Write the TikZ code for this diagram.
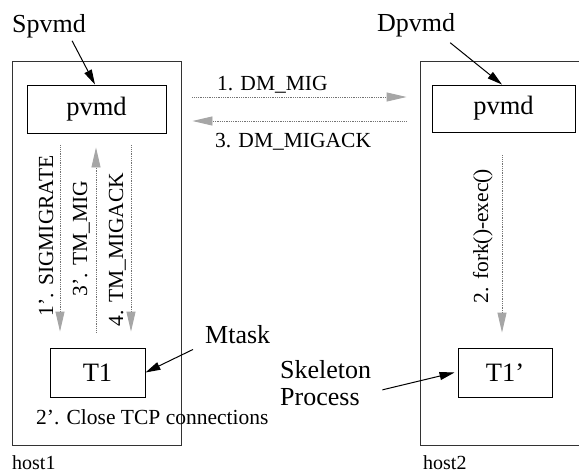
\documentclass[tikz,border=0pt]{standalone}
\usepackage{fontspec}
\setmainfont{Liberation Serif}
\usetikzlibrary{arrows.meta,calc}
\begin{document}
\begin{tikzpicture}[x=1pt,y=-1pt,
  hostbox/.style={draw=black!80,line width=0.8pt,inner sep=0pt},
  procbox/.style={draw=black,line width=0.9pt,inner sep=0pt,font=\fontsize{26.5}{28}\selectfont},
  biglabel/.style={inner sep=0pt,font=\fontsize{26}{27}\selectfont},
  msglabel/.style={inner sep=0pt,font=\fontsize{21.5}{24}\selectfont},
  hostlabel/.style={inner sep=0pt,font=\fontsize{20}{22}\selectfont},
  msgarrow/.style={draw=black!55,line width=0.9pt,dash pattern=on 0.9pt off 0.9pt,
    -{Triangle[length=20pt,width=9pt,color=black!35,fill=black!35]}},
  pointer/.style={draw=black,line width=1pt,-{Triangle[length=15pt,width=8pt]}}]
\useasboundingbox (0,0) rectangle (579,474);
\clip (0,0) rectangle (579,474);
\fill[white] (0,0) rectangle (579,474);

% host boxes
\node[hostbox,minimum width=169pt,minimum height=384pt] (host1) at (96.5,253) {};
\node[hostbox,minimum width=180pt,minimum height=384pt] (host2) at (510,253) {};

% process boxes
\node[procbox,minimum width=139pt,minimum height=48pt] (pvmd1) at (96.5,109) {pvmd};
\node[procbox,minimum width=143pt,minimum height=47pt] (pvmd2) at (503.5,108.5) {pvmd};
\node[procbox,minimum width=95pt,minimum height=49pt] (t1) at (97.5,372.5) {T1};
\node[procbox,minimum width=94pt,minimum height=49pt] (t1p) at (505,372.5) {T1'};

% big labels
\node[biglabel,anchor=base west] (spvmd) at (12,32) {Spvmd};
\node[biglabel,anchor=base west] (dpvmd) at (377,31) {Dpvmd};
\node[biglabel,anchor=base west] (mtask) at (205,343) {Mtask};
\node[biglabel,anchor=north west,align=left] (skel) at (280,360) {Skeleton\\Process};

% message labels
\node[msglabel,anchor=base west] (m1) at (217,90) {1. DM\_MIG};
\node[msglabel,anchor=base west] (m3) at (215,147) {3. DM\_MIGACK};
\node[msglabel,anchor=base west] (close) at (36,424) {2'. Close TCP connections};
\node[msglabel,rotate=90,anchor=base] (s1) at (53,236) {1'. SIGMIGRATE};
\node[msglabel,rotate=90,anchor=base] (s3) at (87,238.5) {3'. TM\_MIG};
\node[msglabel,rotate=90,anchor=base] (s4) at (123,249.5) {4. TM\_MIGACK};
\node[msglabel,rotate=90,anchor=base] (s2) at (488,236) {2. fork()-exec()};

% host labels
\node[hostlabel,anchor=base west] (h1) at (12,469) {host1};
\node[hostlabel,anchor=base west] (h2) at (423,469) {host2};

% messages between daemons
\draw[msgarrow,shorten <=26pt,shorten >=25pt]
  ([yshift=12pt]pvmd1.east) -- ([yshift=12pt]pvmd1.east -| pvmd2.west);
\draw[msgarrow,shorten <=25pt,shorten >=26pt]
  ([yshift=-12pt]pvmd1.east -| pvmd2.west) -- ([yshift=-12pt]pvmd1.east);

% local messages
\draw[msgarrow,shorten <=12pt,shorten >=16pt]
  ([xshift=-36.5pt]pvmd1.south) -- ([xshift=-36.5pt]pvmd1.south |- t1.north);
\draw[msgarrow,shorten <=15pt,shorten >=14pt]
  ([xshift=-0.5pt]pvmd1.south |- t1.north) -- ([xshift=-0.5pt]pvmd1.south);
\draw[msgarrow,shorten <=12pt,shorten >=16pt]
  ([xshift=34.5pt]pvmd1.south) -- ([xshift=34.5pt]pvmd1.south |- t1.north);
\draw[msgarrow,shorten <=23pt,shorten >=15pt]
  ([xshift=-1.5pt]pvmd2.south) -- ([xshift=-1.5pt]pvmd2.south |- t1p.north);

% pointers
\draw[pointer] ($(spvmd.south)+(23,3)$) -- ([xshift=-1.5pt]pvmd1.north);
\draw[pointer] ($(dpvmd.south)+(34,6)$) -- ([xshift=-1.5pt]pvmd2.north);
\draw[pointer] ($(mtask.south west)+(-12,6)$) -- (t1.east);
\draw[pointer] ($(skel.east)+(11,7)$) -- ([xshift=-3pt]t1p.west);
\end{tikzpicture}
\end{document}
